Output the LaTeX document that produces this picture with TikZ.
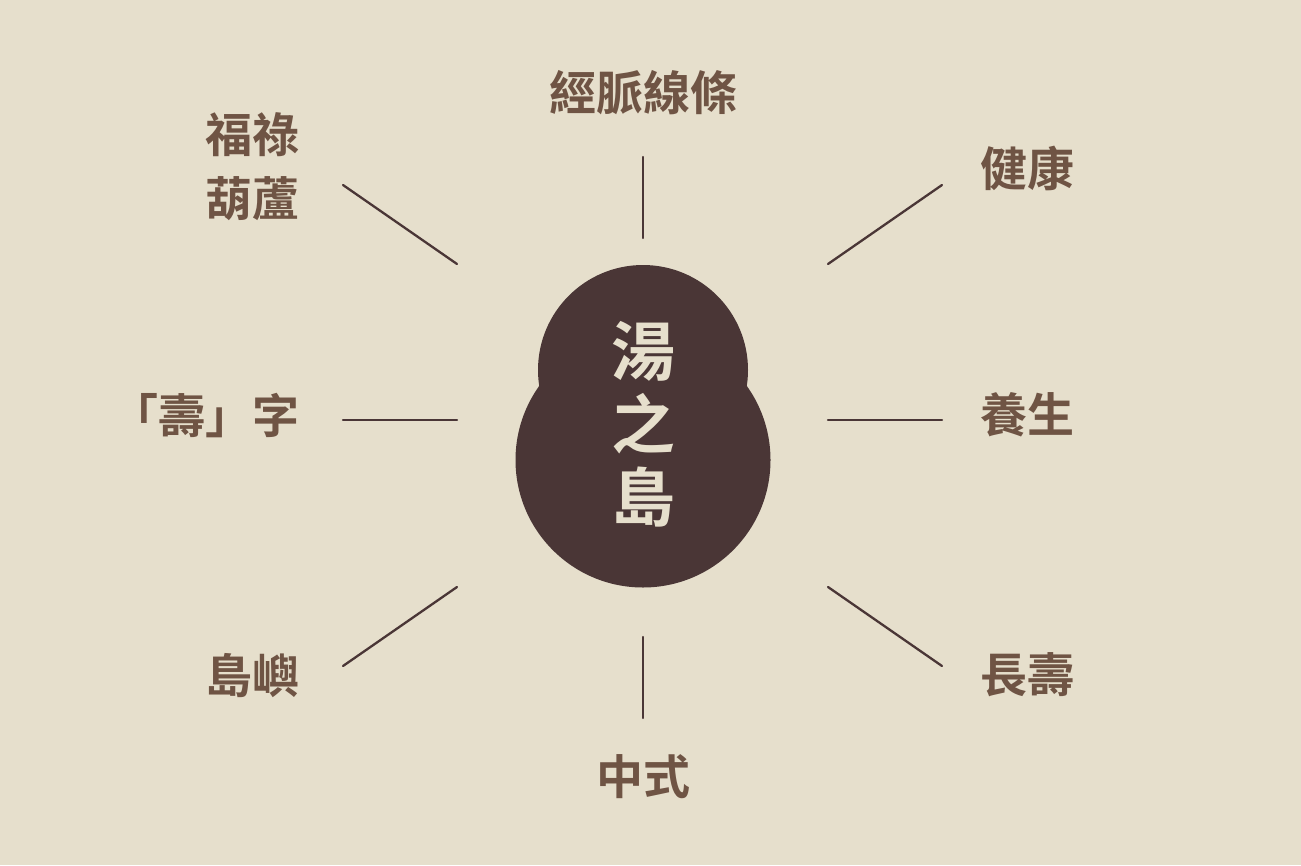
\documentclass[tikz,border=0pt]{standalone}
\usepackage{fontspec}
\newfontfamily\cjkb{Noto Sans CJK TC Bold}
\definecolor{bgc}{HTML}{E6DFCC}
\definecolor{darkc}{HTML}{4A3636}
\definecolor{textc}{HTML}{6F5444}
\tikzset{
  lbl/.style={font=\cjkb\fontsize{47}{64}\selectfont, text=textc, inner sep=0pt, align=center},
  lblr/.style={lbl, anchor=east, align=right},
  lbll/.style={lbl, anchor=west, align=left},
  ray/.style={draw=darkc, line width=2.3pt, line cap=round},
}
\begin{document}
\begin{tikzpicture}[x=1pt,y=-1pt]
\fill[bgc] (0,0) rectangle (1301,865);
\useasboundingbox (0,0) rectangle (1301,865);
% gourd
\fill[darkc] (643,370) circle (105);
\fill[darkc] (643,460) circle (127.5);
\node[font=\cjkb\fontsize{64}{73}\selectfont, text=bgc, inner sep=0pt, align=center] (center) at (643,424) {湯\\之\\島};
% labels
\node[lbl] (top) at (643,93) {經脈線條};
\node[lbl] (bottom) at (643,777) {中式};
\node[lblr] (ul) at (300,166.5) {福祿\\葫蘆};
\node[lblr] (l) at (300,416) {「壽」字};
\node[lblr] (ll) at (300,676) {島嶼};
\node[lbll] (ur) at (980,168) {健康};
\node[lbll] (r) at (980,415) {養生};
\node[lbll] (lr) at (980,675) {長壽};
% ray endpoints
\coordinate (t1) at (643,157); \coordinate (t2) at (643,238);
\coordinate (b1) at (643,637); \coordinate (b2) at (643,718);
\coordinate (l1) at (343,420); \coordinate (l2) at (457,420);
\coordinate (r1) at (828,420); \coordinate (r2) at (942,420);
\coordinate (ul1) at (343,185); \coordinate (ul2) at (457,264);
\coordinate (ur1) at (828,264); \coordinate (ur2) at (942,185);
\coordinate (ll1) at (343,666); \coordinate (ll2) at (457,587);
\coordinate (lr1) at (828,587); \coordinate (lr2) at (942,666);
\draw[ray] (t1) -- (t2);
\draw[ray] (b1) -- (b2);
\draw[ray] (l1) -- (l2);
\draw[ray] (r1) -- (r2);
\draw[ray] (ul1) -- (ul2);
\draw[ray] (ur1) -- (ur2);
\draw[ray] (ll1) -- (ll2);
\draw[ray] (lr1) -- (lr2);
\end{tikzpicture}
\end{document}
